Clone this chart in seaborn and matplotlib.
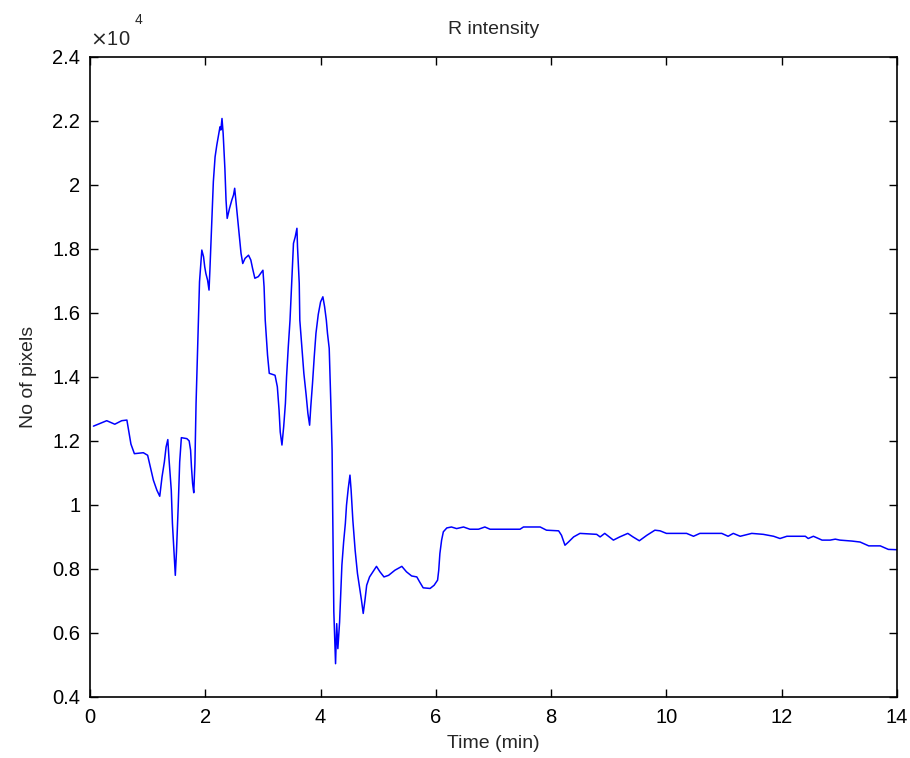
import matplotlib
matplotlib.use("Agg")
import matplotlib.pyplot as plt
from matplotlib.ticker import FuncFormatter
import seaborn as sns
import pandas as pd
import numpy as np

time_min = [0.06, 0.29, 0.43, 0.55, 0.64, 0.68, 0.71, 0.77, 0.925, 1.0, 1.04, 1.10, 1.16, 1.21, 1.25, 1.29, 1.32,
            1.35, 1.37, 1.41, 1.43, 1.46, 1.48, 1.50, 1.53, 1.556, 1.585, 1.68, 1.72, 1.745, 1.76, 1.78, 1.80, 1.82,
            1.84, 1.90, 1.94, 1.97, 1.99, 2.01, 2.04, 2.065, 2.08, 2.11, 2.14, 2.17, 2.20, 2.23, 2.255, 2.27, 2.29,
            2.31, 2.34, 2.36, 2.38, 2.42, 2.46, 2.49, 2.51, 2.53, 2.56, 2.59, 2.62, 2.65, 2.69, 2.75, 2.79, 2.82,
            2.86, 2.92, 2.96, 3.00, 3.02, 3.04, 3.08, 3.11, 3.21, 3.25, 3.28, 3.30, 3.33, 3.36, 3.39, 3.41, 3.44,
            3.47, 3.50, 3.53, 3.56, 3.59, 3.60, 3.63, 3.64, 3.68, 3.71, 3.75, 3.78, 3.81, 3.83, 3.86, 3.89, 3.92,
            3.96, 4.00, 4.04, 4.07, 4.10, 4.12, 4.15, 4.18, 4.20, 4.21, 4.23, 4.26, 4.28, 4.30, 4.33, 4.35, 4.37,
            4.40, 4.43, 4.45, 4.48, 4.51, 4.53, 4.56, 4.60, 4.64, 4.68, 4.71, 4.74, 4.77, 4.80, 4.85, 4.89, 4.97,
            5.03, 5.10, 5.18, 5.29, 5.41, 5.49, 5.58, 5.67, 5.72, 5.78, 5.90, 5.97, 6.03, 6.05, 6.07, 6.10, 6.13,
            6.19, 6.27, 6.36, 6.48, 6.59, 6.74, 6.85, 6.94, 7.46, 7.52, 7.81, 7.92, 8.13, 8.18, 8.24, 8.30, 8.39,
            8.50, 8.79, 8.85, 8.93, 9.08, 9.19, 9.33, 9.42, 9.53, 9.66, 9.80, 9.89, 10.0, 10.35, 10.47, 10.58,
            10.96, 11.07, 11.16, 11.28, 11.48, 11.68, 11.86, 11.97, 12.09, 12.41, 12.46, 12.55, 12.70, 12.84,
            12.93, 13.01, 13.22, 13.36, 13.51, 13.71, 13.85, 14.0]

pixels_e4 = [1.246, 1.263, 1.252, 1.263, 1.265, 1.223, 1.19, 1.16, 1.163, 1.155, 1.124, 1.077, 1.046, 1.027, 1.088,
             1.134, 1.181, 1.204, 1.145, 1.046, 0.942, 0.843, 0.78, 0.853, 0.994, 1.134, 1.21, 1.207, 1.20, 1.171,
             1.119, 1.067, 1.038, 1.129, 1.317, 1.697, 1.796, 1.775, 1.744, 1.723, 1.702, 1.671, 1.733, 1.874, 2.01,
             2.087, 2.124, 2.155, 2.181, 2.171, 2.207, 2.16, 2.051, 1.952, 1.895, 1.926, 1.952, 1.968, 1.989, 1.952,
             1.90, 1.843, 1.786, 1.754, 1.77, 1.78, 1.765, 1.739, 1.708, 1.713, 1.723, 1.733, 1.681, 1.577, 1.468,
             1.411, 1.405, 1.369, 1.296, 1.228, 1.187, 1.244, 1.317, 1.40, 1.494, 1.577, 1.70, 1.817, 1.837, 1.864,
             1.806, 1.692, 1.577, 1.483, 1.411, 1.343, 1.286, 1.249, 1.306, 1.379, 1.462, 1.536, 1.595, 1.634, 1.65,
             1.619, 1.577, 1.536, 1.489, 1.306, 1.171, 0.989, 0.666, 0.504, 0.629, 0.551, 0.634, 0.723, 0.812,
             0.884, 0.942, 0.999, 1.051, 1.093, 1.046, 0.952, 0.858, 0.786, 0.739, 0.702, 0.661, 0.702, 0.749,
             0.775, 0.786, 0.808, 0.791, 0.775, 0.78, 0.796, 0.808, 0.791, 0.778, 0.775, 0.759, 0.741, 0.739,
             0.749, 0.765, 0.796, 0.848, 0.89, 0.916, 0.928, 0.931, 0.926, 0.931, 0.924, 0.924, 0.931, 0.924,
             0.924, 0.931, 0.931, 0.921, 0.919, 0.905, 0.874, 0.884, 0.90, 0.911, 0.908, 0.90, 0.911, 0.89, 0.90,
             0.911, 0.90, 0.888, 0.905, 0.921, 0.919, 0.911, 0.911, 0.902, 0.911, 0.911, 0.902, 0.911, 0.902,
             0.911, 0.908, 0.902, 0.895, 0.902, 0.902, 0.895, 0.902, 0.89, 0.89, 0.893, 0.89, 0.887, 0.884, 0.872,
             0.872, 0.861, 0.86]

x_ticks = [0, 2, 4, 6, 8, 10, 12, 14]
y_ticks = [4000, 6000, 8000, 10000, 12000, 14000, 16000, 18000, 20000, 22000, 24000]

df = pd.DataFrame({"Time (min)": time_min, "No of pixels": np.array(pixels_e4) * 1e4})

sns.set_style("ticks")
plt.rcParams['font.family'] = ['Liberation Sans', 'DejaVu Sans']

fig = plt.figure(figsize=(9.1, 7.58), dpi=100)
ax = fig.add_axes([0.0989, 0.0805, 0.8868, 0.8447])

sns.lineplot(data=df, x="Time (min)", y="No of pixels", ax=ax, color="#0000ff", linewidth=1.1,
             estimator=None, sort=False)

ax.set_xlim(0, 14)
ax.set_ylim(4000, 24000)
ax.set_xticks(x_ticks)
ax.set_yticks(y_ticks)
ax.yaxis.set_major_formatter(FuncFormatter(lambda v, p: "%g" % round(v / 1e4, 4)))
ax.xaxis.set_major_formatter(FuncFormatter(lambda v, p: "%g" % v))

for s in ax.spines.values():
    s.set_visible(True)
    s.set_linewidth(1.2)
    s.set_color("black")

ax.tick_params(direction='in', length=6, width=1, top=True, right=True, labelsize=14.5, colors='black')
ax.tick_params(axis='y', pad=7)
ax.tick_params(axis='x', pad=8)
ax.set_xlabel("Time (min)", fontsize=14, labelpad=6)
ax.set_ylabel("No of pixels", fontsize=14, labelpad=11)
ax.set_title("R intensity", fontsize=14, pad=16)

ax.text(0.0, 1.012, r"$\times$10", transform=ax.transAxes, fontsize=14.5, ha="left", va="bottom")
ax.text(0.055, 1.047, "4", transform=ax.transAxes, fontsize=10, ha="left", va="bottom")

fig.savefig("out.png", dpi=100, facecolor="white")
